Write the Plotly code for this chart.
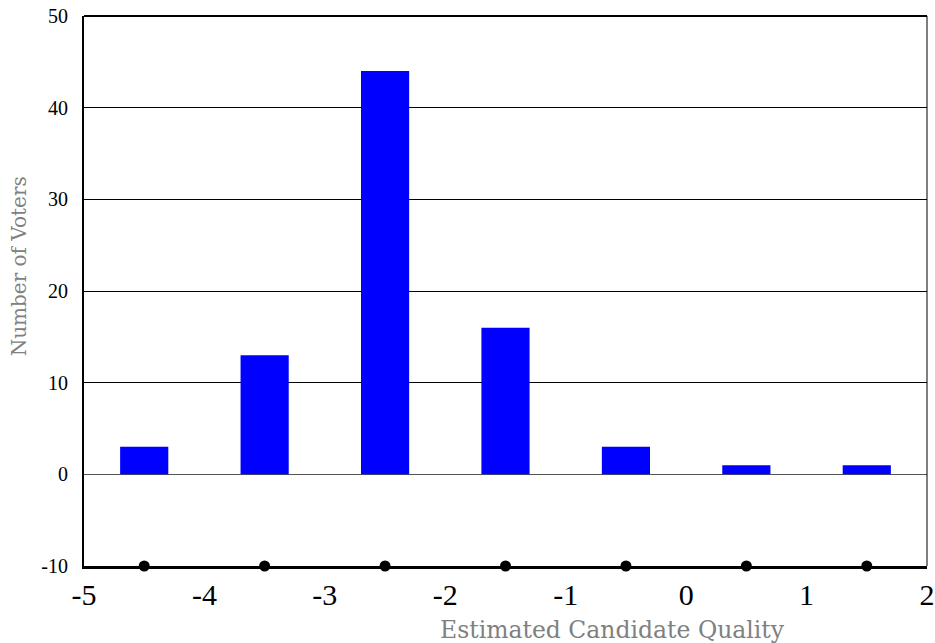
import plotly.graph_objects as go

bin_centers = [-4.5, -3.5, -2.5, -1.5, -0.5, 0.5, 1.5]
voter_counts = [3, 13, 44, 16, 3, 1, 1]
dot_level = [-10, -10, -10, -10, -10, -10, -10]
x_ticks = [-5, -4, -3, -2, -1, 0, 1, 2]
y_ticks = [-10, 0, 10, 20, 30, 40, 50]

fig = go.Figure()
fig.add_trace(go.Bar(x=bin_centers, y=voter_counts, width=0.4,
                     marker=dict(color="#0000FF", line=dict(width=0))))
fig.add_trace(go.Scatter(x=bin_centers, y=dot_level, mode="markers",
                         marker=dict(color="black", size=11, symbol="circle"),
                         cliponaxis=False))

fig.update_layout(
    width=935, height=643,
    margin=dict(l=84, r=8, t=16, b=77),
    paper_bgcolor="white", plot_bgcolor="white",
    showlegend=False,
    font=dict(family="Liberation Serif, Times New Roman, serif", color="black"),
    xaxis=dict(range=[-5, 2], tickvals=x_ticks, ticktext=[str(v) for v in x_ticks],
               tickfont=dict(size=30), showgrid=False, zeroline=False,
               showline=True, linecolor="black", linewidth=3, mirror=False,
               ticks="", ticklen=0, automargin=False),
    yaxis=dict(range=[-10, 50], tickvals=y_ticks, ticktext=[str(v) for v in y_ticks],
               tickfont=dict(size=20), showgrid=True, gridcolor="black", gridwidth=1,
               zeroline=True, zerolinecolor="#555555", zerolinewidth=1,
               showline=True, linecolor="black", linewidth=2, ticks="", ticklen=0,
               ticklabelstandoff=10, automargin=False),
    shapes=[
        dict(type="line", xref="paper", yref="paper", x0=0, x1=1, y0=1, y1=1,
             line=dict(color="black", width=2)),
        dict(type="line", xref="paper", yref="paper", x0=1, x1=1, y0=0, y1=1,
             line=dict(color="black", width=1)),
    ],
    annotations=[
        dict(text="Estimated Candidate Quality", xref="paper", yref="paper",
             x=0.627, y=-0.088, xanchor="center", yanchor="top", showarrow=False,
             font=dict(family="DejaVu Serif, serif", size=23.5, color="#808080")),
        dict(text="Number of Voters", xref="paper", yref="paper",
             x=-0.077, y=0.545, xanchor="center", yanchor="middle", showarrow=False,
             textangle=-90,
             font=dict(family="DejaVu Serif, serif", size=20, color="#808080")),
    ],
)

fig.write_html("out.html", config={"displayModeBar": False},
               post_script="document.body.style.margin='0px';")
